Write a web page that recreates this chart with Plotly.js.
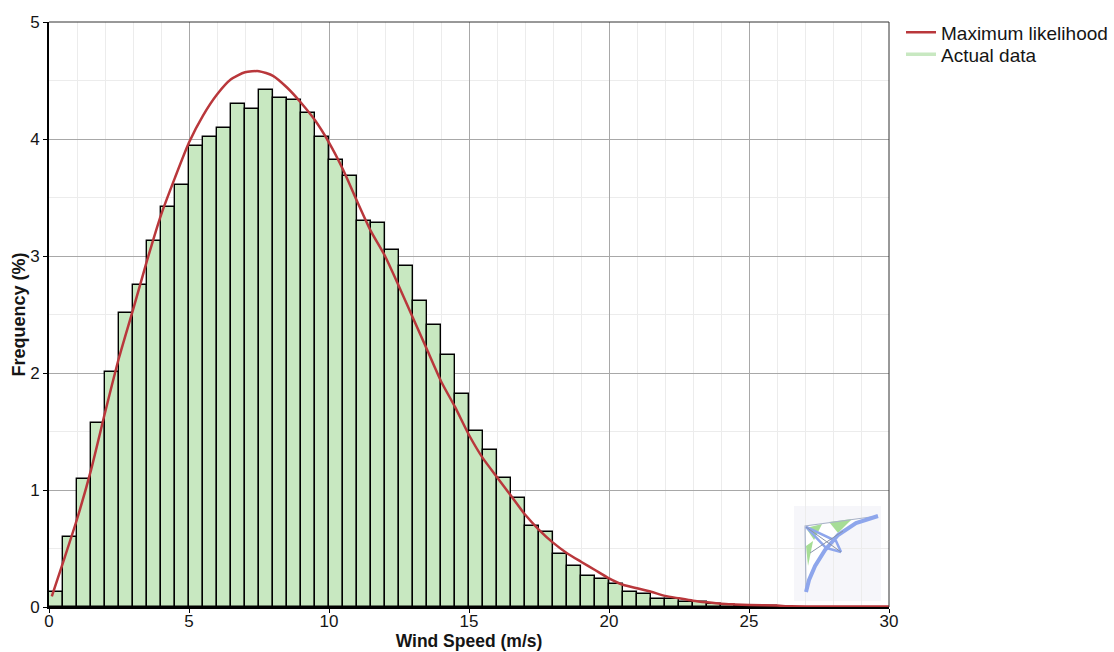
<!DOCTYPE html>
<html>
<head>
<meta charset="utf-8">
<script src="https://cdn.plot.ly/plotly-3.0.1.min.js"></script>
<style>
  html, body { margin: 0; padding: 0; background: #ffffff; }
  #chart { width: 1114px; height: 652px; }
</style>
</head>
<body>
<div id="chart"></div>
<script>
// Histogram of actual data: frequency (%) per 0.5 m/s bin, first bin 0-0.5 m/s
var binWidth = 0.5;
var binFirstCenter = 0.25;
var actualFreq = [
  0.13, 0.60, 1.09, 1.575, 2.01, 2.51, 2.75, 3.125, 3.42, 3.61,
  3.94, 4.02, 4.095, 4.30, 4.257, 4.42, 4.35, 4.333, 4.226, 4.02,
  3.82, 3.685, 3.30, 3.28, 3.054, 2.917, 2.618, 2.407, 2.157, 1.823,
  1.507, 1.345, 1.10, 0.93, 0.695, 0.638, 0.453, 0.353, 0.268, 0.236,
  0.20, 0.13, 0.114, 0.068, 0.068, 0.04, 0.04, 0.023, 0.014, 0.01,
  0.007, 0.005, 0.003
];

// Maximum likelihood fit curve
var fitSpeed = [
  0.1, 0.5, 1.0, 1.5, 2.0, 2.5, 3.0, 3.5, 4.0, 4.5,
  5.0, 5.5, 6.0, 6.5, 7.0, 7.5, 8.0, 8.5, 9.0, 9.5,
  10.0, 10.5, 11.0, 11.5, 12.0, 12.5, 13.0, 13.5, 14.0, 14.5,
  15.0, 15.5, 16.0, 16.5, 17.0, 17.5, 18.0, 18.5, 19.0, 19.5,
  20.0, 20.5, 21.0, 21.5, 22.0, 22.5, 23.0, 23.5, 24.0, 24.5,
  25.0, 26.0, 26.5, 30.0
];
var fitFreq = [
  0.09, 0.38, 0.75, 1.17, 1.66, 2.13, 2.54, 2.96, 3.35, 3.67,
  3.97, 4.20, 4.38, 4.51, 4.57, 4.58, 4.54, 4.44, 4.31, 4.16,
  3.97, 3.74, 3.47, 3.21, 3.00, 2.74, 2.47, 2.20, 1.93, 1.71,
  1.47, 1.27, 1.11, 0.95, 0.79, 0.66, 0.55, 0.46, 0.387, 0.316,
  0.245, 0.19, 0.16, 0.13, 0.095, 0.074, 0.054, 0.04, 0.028, 0.022,
  0.017, 0.012, 0.006, 0.005
];

var xTicks = [0, 5, 10, 15, 20, 25, 30];
var yTicks = [0, 1, 2, 3, 4, 5];
var seriesNames = ["Maximum likelihood", "Actual data"];

var FONT = "Liberation Sans, Arial, sans-serif";
var TEXT = "#151515";
var RED = "#b9373b";
var GREEN = "#c8e8c1";

var traces = [
  {
    type: "bar",
    x0: binFirstCenter,
    dx: binWidth,
    y: actualFreq,
    width: binWidth,
    marker: { color: GREEN, line: { color: "#000000", width: 1.4 } },
    showlegend: false,
    hoverinfo: "x+y"
  },
  {
    type: "scatter",
    mode: "lines",
    x: fitSpeed,
    y: fitFreq,
    name: seriesNames[0],
    legend: "legend",
    line: { color: RED, width: 2.5, shape: "spline", smoothing: 0.6 }
  },
  {
    type: "scatter",
    mode: "lines",
    x: [null],
    y: [null],
    name: seriesNames[1],
    legend: "legend2",
    line: { color: GREEN, width: 3.5 },
    hoverinfo: "skip"
  }
];

// kite logo (decoration) in pixel space -> paper conversion helpers
var L = 48.5, R = 889, T = 22, B = 607;
function px(x) { return ((x - L) / (R - L)).toFixed(4); }
function py(y) { return ((B - y) / (B - T)).toFixed(4); }
function path(pts, close) {
  var s = "";
  for (var i = 0; i < pts.length; i++) {
    s += (i === 0 ? "M" : "L") + px(pts[i][0]) + "," + py(pts[i][1]);
  }
  return s + (close ? "Z" : "");
}
function pshape(pts, close, fill, lineColor, lineWidth) {
  return {
    type: "path", xref: "paper", yref: "paper", path: path(pts, close),
    fillcolor: fill || "rgba(0,0,0,0)",
    line: { color: lineColor || "rgba(0,0,0,0)", width: lineWidth || 0 }
  };
}

var BLUE = "#8ea6ec";
var shapes = [
  // top and right frame
  { type: "line", xref: "paper", yref: "paper", x0: 0, x1: 1, y0: 1, y1: 1, line: { color: "#333333", width: 1 } },
  { type: "line", xref: "paper", yref: "paper", x0: 1, x1: 1, y0: 0, y1: 1, line: { color: "#333333", width: 1 } },
  // logo background
  { type: "rect", xref: "paper", yref: "paper", x0: px(794), x1: px(881), y0: py(601), y1: py(506),
    fillcolor: "#f6f6fa", line: { width: 0 }, layer: "below" },
  // white sail body
  pshape([[805, 526], [878, 516], [850, 526], [832, 540], [820, 556], [811, 575], [806, 592]], true, "#ffffff", null, 0),
  // green panels
  pshape([[806, 528], [822, 524], [814, 540]], true, "#a6dd96"),
  pshape([[829, 522], [852, 519], [838, 533]], true, "#a6dd96"),
  pshape([[806, 546], [813, 541], [808, 566]], true, "#a6dd96"),
  // thin outer edge
  pshape([[806, 592], [805, 526], [878, 516]], false, null, "#a9b3c8", 1.2),
  // blue trailing band
  pshape([[878, 516], [856, 523], [838, 535], [825, 550], [815, 566], [809, 580], [806, 592]], false, null, BLUE, 4),
  // keel struts from nose
  pshape([[806, 527], [836, 541], [841, 552]], false, null, BLUE, 2.5),
  pshape([[806, 527], [826, 548], [841, 552]], false, null, BLUE, 2.5),
  pshape([[806, 527], [841, 552]], false, null, "#8a93a8", 1),
  pshape([[810, 553], [843, 531]], false, null, "#8a93a8", 1)
];

var legendBase = {
  xref: "container", yref: "container",
  x: 901 / 1114, xanchor: "left", yanchor: "middle",
  font: { family: FONT, size: 19, color: TEXT },
  bgcolor: "rgba(0,0,0,0)", borderwidth: 0,
  itemwidth: 30
};

var layout = {
  width: 1114,
  height: 652,
  margin: { l: 48.5, r: 225, t: 22, b: 45, pad: 0, autoexpand: false },
  paper_bgcolor: "#ffffff",
  plot_bgcolor: "#ffffff",
  font: { family: FONT, size: 17, color: TEXT },
  bargap: 0,
  showlegend: true,
  legend: Object.assign({}, legendBase, { y: 1 - 32.5 / 652 }),
  legend2: Object.assign({}, legendBase, { y: 1 - 54.5 / 652 }),
  xaxis: {
    range: [0, 30],
    tickvals: xTicks,
    ticktext: xTicks.map(String),
    ticks: "outside", ticklen: 4, tickcolor: "#000000", tickwidth: 1,
    ticklabelstandoff: -6,
    showline: true, linecolor: "#000000", linewidth: 2,
    showgrid: true, gridcolor: "#a8a8a8", gridwidth: 1,
    minor: { dtick: 1, showgrid: true, gridcolor: "#ececec", gridwidth: 1, ticks: "" },
    zeroline: false,
    tickfont: { family: FONT, size: 17, color: TEXT },
    title: { text: "<b>Wind Speed (m/s)</b>", font: { family: FONT, size: 17.5, color: TEXT }, standoff: 2 }
  },
  yaxis: {
    range: [0, 5],
    tickvals: yTicks,
    ticktext: yTicks.map(String),
    ticks: "outside", ticklen: 4, tickcolor: "#000000", tickwidth: 1,
    showline: true, linecolor: "#000000", linewidth: 2,
    showgrid: true, gridcolor: "#a8a8a8", gridwidth: 1,
    minor: { dtick: 0.5, showgrid: true, gridcolor: "#ececec", gridwidth: 1, ticks: "" },
    zeroline: false,
    tickfont: { family: FONT, size: 17, color: TEXT },
    title: { text: "<b>Frequency (%)</b>", font: { family: FONT, size: 18, color: TEXT }, standoff: 0 }
  },
  shapes: shapes
};

Plotly.newPlot("chart", traces, layout, { displayModeBar: false, responsive: false });
</script>
</body>
</html>
